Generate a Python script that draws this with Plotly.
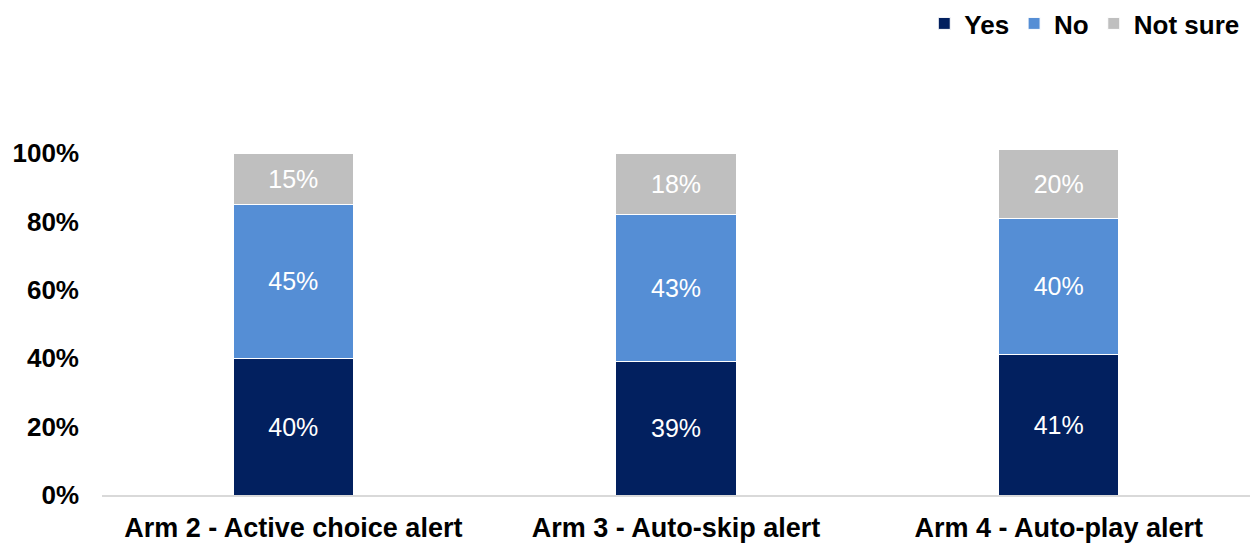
import plotly.graph_objects as go

categories = ["Arm 2 - Active choice alert", "Arm 3 - Auto-skip alert", "Arm 4 - Auto-play alert"]
yes_vals = [40, 39, 41]
no_vals = [45, 43, 40]
notsure_vals = [15, 18, 20]
series = [("Yes", yes_vals, "#02205F"), ("No", no_vals, "#558ED5"), ("Not sure", notsure_vals, "#BFBFBF")]
tick_vals = [0, 20, 40, 60, 80, 100]
tick_text = ["0%", "20%", "40%", "60%", "80%", "100%"]

FONT = "Liberation Sans, Arial"

fig = go.Figure()
for name, vals, color in series:
    fig.add_trace(go.Bar(
        x=categories, y=vals, name=name,
        marker=dict(color=color, line=dict(color="white", width=1)),
        width=0.314,
        text=[f"{v}%" for v in vals], textposition="inside", insidetextanchor="middle",
        textfont=dict(color="white", size=25, family=FONT),
        hoverinfo="skip",
    ))

fig.update_layout(
    barmode="stack",
    width=1250, height=543,
    margin=dict(l=102, r=0, t=136, b=48),
    paper_bgcolor="white", plot_bgcolor="white",
    font=dict(family=FONT, color="black"),
    legend=dict(orientation="h", x=0.995, xanchor="right", y=1.0, yanchor="top",
                yref="container", font=dict(size=26, family=FONT, weight="bold"),
                traceorder="normal", itemwidth=30, tracegroupgap=0),
    uniformtext=dict(minsize=10, mode="show"),
)
fig.update_xaxes(showline=True, linecolor="#D9D9D9", linewidth=2, ticks="",
                 ticklabelstandoff=8, automargin=False,
                 tickfont=dict(size=27, family=FONT, weight="bold"),
                 showgrid=False)
fig.update_yaxes(range=[0, 105], tickvals=tick_vals, ticktext=tick_text, showgrid=False,
                 zeroline=False, ticks="", ticklabelstandoff=22, automargin=False,
                 tickfont=dict(size=26, family=FONT, weight="bold"))

fig.write_html("out.html")
